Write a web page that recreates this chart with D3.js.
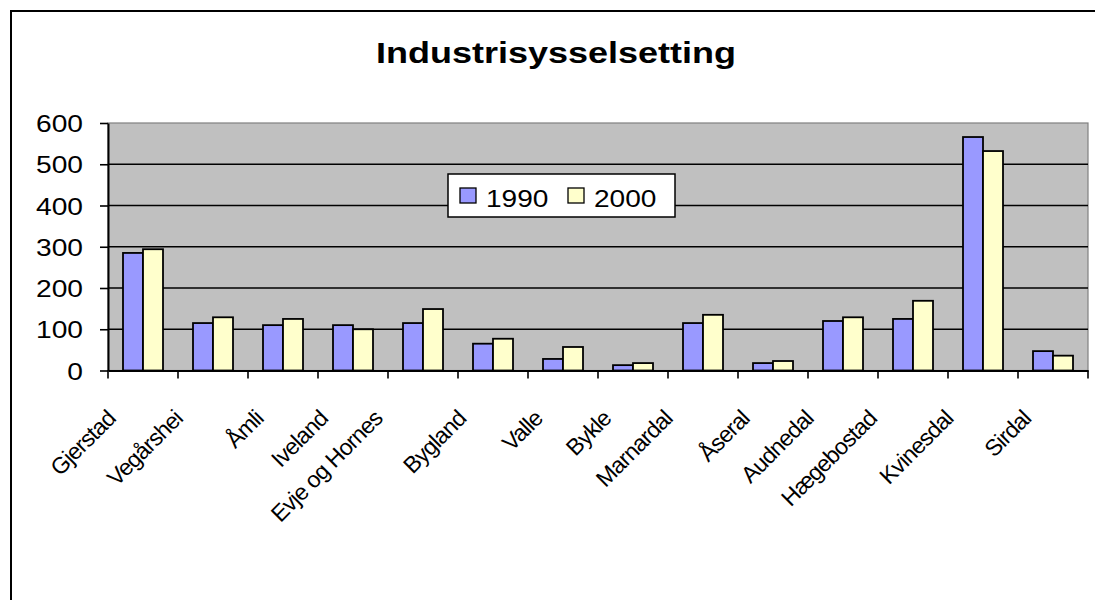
<!DOCTYPE html>
<html>
<head>
<meta charset="utf-8">
<script src="https://cdn.jsdelivr.net/npm/d3@7"></script>
<style>
  body { margin: 0; background: #fff; }
  text { font-family: "Liberation Sans", Arial, sans-serif; fill: #000; }
</style>
</head>
<body>
<svg></svg>
<script>
const width = 1095;
const height = 600;

// data
const categories = ["Gjerstad", "Vegårshei", "Åmli", "Iveland", "Evje og Hornes", "Bygland", "Valle",
    "Bykle", "Marnardal", "Åseral", "Audnedal", "Hægebostad", "Kvinesdal", "Sirdal"];
const seriesNames = ["1990", "2000"];
const values1990 = [285, 115, 110, 110, 115, 65, 28, 13, 115, 18, 120, 125, 566, 47];
const values2000 = [294, 129, 125, 100, 149, 77, 57, 18, 135, 23, 129, 169, 532, 36];
const yTicks = [0, 100, 200, 300, 400, 500, 600];
const colors = ["#9999ff", "#ffffcc"];

const svg = d3.select("svg")
    .attr("width", width)
    .attr("height", height);

// outer chart border (runs off the bottom/right of the picture)
svg.append("rect")
    .attr("x", 11).attr("y", 11)
    .attr("width", 1100).attr("height", 620)
    .attr("fill", "#fff")
    .attr("stroke", "#000")
    .attr("stroke-width", 2);

const plot = { left: 108, right: 1088, top: 123, bottom: 370.5 };

const x0 = d3.scaleBand()
    .domain(categories)
    .range([plot.left, plot.right])
    .padding(0);

const x1 = d3.scaleBand()
    .domain(seriesNames)
    .range([0, x0.bandwidth()])
    .paddingInner(0)
    .paddingOuter(0.75);

const y = d3.scaleLinear()
    .domain([0, 600])
    .range([plot.bottom, plot.top]);

// plot area
svg.append("rect")
    .attr("x", plot.left).attr("y", plot.top)
    .attr("width", plot.right - plot.left)
    .attr("height", plot.bottom - plot.top)
    .attr("fill", "#c0c0c0")
    .attr("stroke", "#808080")
    .attr("stroke-width", 1.2);

// gridlines
svg.append("g")
    .selectAll("line")
    .data(yTicks.filter(d => d > 0 && d < 600))
    .join("line")
    .attr("x1", plot.left).attr("x2", plot.right)
    .attr("y1", d => y(d)).attr("y2", d => y(d))
    .attr("stroke", "#000")
    .attr("stroke-width", 1.4);

// bars
const table = categories.map((c, i) => ({ cat: c, vals: [values1990[i], values2000[i]] }));

svg.append("g")
    .selectAll("g")
    .data(table)
    .join("g")
    .attr("transform", d => `translate(${x0(d.cat)},0)`)
    .selectAll("rect")
    .data(d => d.vals.map((v, k) => ({ key: seriesNames[k], v: v, k: k })))
    .join("rect")
    .attr("x", d => x1(d.key))
    .attr("y", d => y(d.v))
    .attr("width", x1.bandwidth())
    .attr("height", d => y(0) - y(d.v))
    .attr("fill", d => colors[d.k])
    .attr("stroke", "#000")
    .attr("stroke-width", 1.8);

// y axis
const yAxis = svg.append("g")
    .attr("transform", `translate(${plot.left},0)`)
    .call(d3.axisLeft(y).tickValues(yTicks).tickSize(8).tickSizeOuter(0).tickFormat(d3.format("d")));
yAxis.select(".domain").attr("stroke", "#000").attr("stroke-width", 2);
yAxis.selectAll(".tick line").attr("stroke", "#000").attr("stroke-width", 1.6);
yAxis.selectAll(".tick text")
    .attr("x", 0).attr("dy", null).attr("y", 8.5)
    .attr("font-size", 24.5)
    .attr("text-anchor", "end")
    .attr("transform", "translate(-25,0) scale(1.15,1)");

// x axis
const xAxis = svg.append("g")
    .attr("transform", `translate(0,${plot.bottom})`)
    .call(d3.axisBottom(x0).tickSize(0).tickSizeOuter(0).tickFormat(""));
xAxis.select(".domain").attr("stroke", "#000").attr("stroke-width", 2);
xAxis.selectAll(".tick").remove();

// tick marks at category boundaries
const bounds = categories.map(c => x0(c)).concat([plot.right]);
xAxis.selectAll(".bound")
    .data(bounds)
    .join("line")
    .attr("class", "bound")
    .attr("x1", d => d).attr("x2", d => d)
    .attr("y1", 0).attr("y2", 8)
    .attr("stroke", "#000")
    .attr("stroke-width", 1.6);

// category labels, rotated
svg.append("g")
    .selectAll("text")
    .data(categories)
    .join("text")
    .attr("font-size", 23)
    .attr("letter-spacing", -0.8)
    .attr("text-anchor", "end")
    .text(d => d)
    .attr("transform", function(d) {
        const L = this.getComputedTextLength();
        const cx = x0(d) + x0.bandwidth() / 2 - 10 - 0.2 * L;
        return `translate(${cx},420) rotate(-45)`;
    });

// title
svg.append("text")
    .attr("transform", "translate(556,63) scale(1.2,1)")
    .attr("text-anchor", "middle")
    .attr("font-size", 30)
    .attr("font-weight", "bold")
    .text("Industrisysselsetting");

// legend
const legend = svg.append("g");
legend.append("rect")
    .attr("x", 448).attr("y", 174)
    .attr("width", 227).attr("height", 43)
    .attr("fill", "#fff")
    .attr("stroke", "#000")
    .attr("stroke-width", 1.5);

const legendItems = legend.selectAll("g")
    .data(seriesNames)
    .join("g")
    .attr("transform", (d, i) => `translate(${460 + i * 108},0)`);

legendItems.append("rect")
    .attr("x", 0).attr("y", 188)
    .attr("width", 16).attr("height", 15)
    .attr("fill", (d, i) => colors[i])
    .attr("stroke", "#000")
    .attr("stroke-width", 1.3);

legendItems.append("text")
    .attr("transform", "translate(26,207) scale(1.17,1)")
    .attr("font-size", 24)
    .text(d => d);
</script>
</body>
</html>
